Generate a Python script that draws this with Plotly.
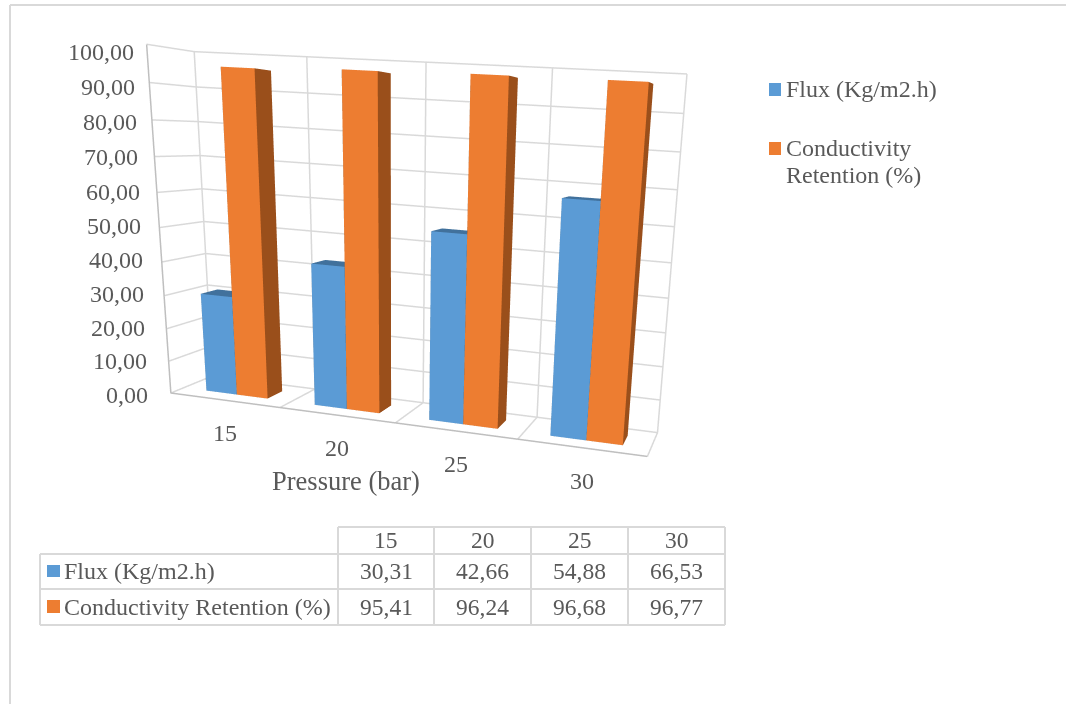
import plotly.graph_objects as go

pressure = ["15", "20", "25", "30"]
flux = [30.31, 42.66, 54.88, 66.53]
retention = [95.41, 96.24, 96.68, 96.77]
value_ticks = [0, 10, 20, 30, 40, 50, 60, 70, 80, 90, 100]
series_names = ["Flux (Kg/m2.h)", "Conductivity Retention (%)"]

BLUE = dict(front="#5b9bd5", side="#41719c", top="#41719c")
ORANGE = dict(front="#ed7d31", side="#9a4f1b", top="#b6601f")
GRID = "#d9d9d9"
EDGE = "#bfbfbf"
INK = "#595959"
SERIF = "Liberation Serif"

# Bars sit side by side in each category slot with a 150% gap, in the middle of the depth
BAR_LEFT = [0.2143, 0.5]
BAR_W = 0.2857
DEPTH = (0.3, 0.7)

# Scene placement: the camera looks from the front right, slightly above the floor
SCENE_CX = 590
SCENE_W = 2 * (1066 - SCENE_CX)
EYE = dict(x=0.9896, y=-2.2444, z=0.3401)
CENTER = dict(x=0.9789, y=-2.1915, z=0.3261)
UP = dict(x=-0.2947, y=1.0001, z=1.3012)
ASPECT = dict(x=1.4615, y=0.1989, z=1)


def bar_mesh(values, left, colors, name):
    xs, ys, zs, I, J, K, fc = [], [], [], [], [], [], []
    faces = [((0, 1, 5), "front"), ((0, 5, 4), "front"), ((1, 2, 6), "side"), ((1, 6, 5), "side"),
             ((4, 5, 6), "top"), ((4, 6, 7), "top"), ((3, 0, 4), "side"), ((3, 4, 7), "side"),
             ((2, 3, 7), "side"), ((2, 7, 6), "side"), ((0, 1, 2), "side"), ((0, 2, 3), "side")]
    for n, v in enumerate(values):
        x0 = n + left
        x1 = x0 + BAR_W
        d0, d1 = DEPTH
        b = len(xs)
        xs += [x0, x1, x1, x0, x0, x1, x1, x0]
        ys += [d0, d0, d1, d1, d0, d0, d1, d1]
        zs += [0, 0, 0, 0, v, v, v, v]
        for (p, q, r), kind in faces:
            I.append(b + p)
            J.append(b + q)
            K.append(b + r)
            fc.append(colors[kind])
    return go.Mesh3d(x=xs, y=ys, z=zs, i=I, j=J, k=K, facecolor=fc, flatshading=True, name=name,
                     lighting=dict(ambient=1, diffuse=0, specular=0, fresnel=0),
                     hoverinfo="skip", showscale=False)


def grid_trace():
    # Wall and floor rules: value lines wrap the left and back walls, category lines the floor and back wall
    n = len(pressure)
    top = value_ticks[-1]
    gx, gy, gz = [], [], []

    def seg(*corners):
        for c in corners:
            gx.append(c[0])
            gy.append(c[1])
            gz.append(c[2])
        gx.append(None)
        gy.append(None)
        gz.append(None)

    for v in value_ticks:
        seg((0, 0, v), (0, 1, v), (n, 1, v))
    for i in range(n + 1):
        seg((i, 0, 0), (i, 1, 0), (i, 1, top))
    return go.Scatter3d(x=gx, y=gy, z=gz, mode="lines", line=dict(color=GRID, width=3),
                        hoverinfo="skip", showlegend=False)


def comma(v):
    return f"{v:.2f}".replace(".", ",")


def px(x):
    return x / 1066


def py(y):
    return 1 - y / 704


fig = go.Figure()
fig.add_trace(grid_trace())
fig.add_trace(go.Scatter3d(x=[0, 0, len(pressure)], y=[0, 0, 0], z=[value_ticks[-1], 0, 0], mode="lines",
                           line=dict(color=EDGE, width=3), hoverinfo="skip", showlegend=False))
fig.add_trace(bar_mesh(flux, BAR_LEFT[0], BLUE, series_names[0]))
fig.add_trace(bar_mesh(retention, BAR_LEFT[1], ORANGE, series_names[1]))

# Axis labels hang off the scene so they follow the projected axes
scene_notes = []
for v in value_ticks:
    t = v / 100
    scene_notes.append(dict(x=0, y=0, z=v, text=comma(v), showarrow=False, xanchor="right", yanchor="middle",
                            xshift=-21 + 10 * t, yshift=-2 + 21 * t - 27 * t * t,
                            font=dict(family=SERIF, size=24, color=INK)))
for i, name in enumerate(pressure):
    scene_notes.append(dict(x=i + 0.5, y=0, z=0, text=name, showarrow=False, yshift=-33,
                            font=dict(family=SERIF, size=24, color=INK)))


def axis(**kw):
    base = dict(title=dict(text=""), showticklabels=False, showbackground=False, showspikes=False,
                zeroline=False, showline=False, ticks="", showgrid=False)
    base.update(kw)
    return base


fig.update_layout(
    width=1066, height=704, margin=dict(l=0, r=0, t=0, b=0), showlegend=False, paper_bgcolor="white",
    scene=dict(
        domain=dict(x=[(SCENE_CX - SCENE_W / 2) / 1066, (SCENE_CX + SCENE_W / 2) / 1066], y=[0, 1]),
        aspectmode="manual", aspectratio=ASPECT,
        camera=dict(eye=EYE, center=CENTER, up=UP),
        xaxis=axis(range=[0, len(pressure)]),
        yaxis=axis(range=[0, 1]),
        zaxis=axis(range=[0, value_ticks[-1]]),
        annotations=scene_notes,
    ),
)

shapes = []
notes = []


def line(x0, y0, x1, y1, c=GRID, w=2):
    shapes.append(dict(type="line", xref="paper", yref="paper", x0=px(x0), y0=py(y0), x1=px(x1), y1=py(y1),
                       line=dict(color=c, width=w)))


def swatch(x0, y0, x1, y1, c):
    shapes.append(dict(type="rect", xref="paper", yref="paper", x0=px(x0), y0=py(y0), x1=px(x1), y1=py(y1),
                       fillcolor=c, line=dict(width=0)))


def label(x, y, t, size=24, anchor="left"):
    notes.append(dict(x=px(x), y=py(y), xref="paper", yref="paper", text=t, showarrow=False, xanchor=anchor,
                      yanchor="middle", font=dict(family=SERIF, size=size, color=INK)))


# Chart-area frame
line(10, 5, 1066, 5)
line(10, 5, 10, 704)

# Legend
swatch(769, 83, 781, 96, BLUE["front"])
swatch(769, 142, 781, 155, ORANGE["front"])
label(784, 89, series_names[0])
label(784, 148, "Conductivity")
label(784, 175, "Retention (%)")

label(345.5, 481, "Pressure (bar)", 26.5, "center")

# Data table under the chart
cols = [338, 434, 531, 628, 725]
rows = [527, 554, 589, 625]
row_mid = [571, 607]
line(338, rows[0], 725, rows[0])
for r in rows[1:]:
    line(40, r, 725, r)
line(40, 554, 40, 625)
for c in cols:
    line(c, 527, c, 625)
for n, vals in enumerate([flux, retention]):
    for i, v in enumerate(vals):
        label((cols[i] + cols[i + 1]) / 2, row_mid[n], comma(v), 23.5, "center")
    label(62, row_mid[n], series_names[n], 24)
for i, name in enumerate(pressure):
    label((cols[i] + cols[i + 1]) / 2, 540, name, 23.5, "center")
swatch(47, 565, 60, 577, BLUE["front"])
swatch(47, 600, 60, 613, ORANGE["front"])

fig.update_layout(shapes=shapes, annotations=notes)
fig.write_html("out.html")
